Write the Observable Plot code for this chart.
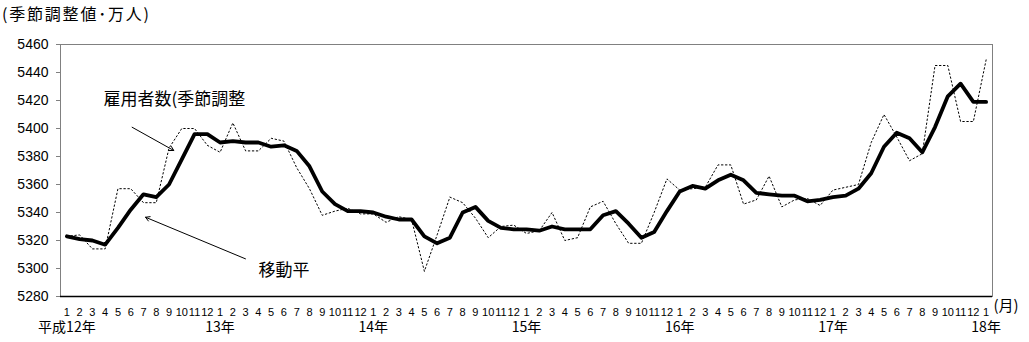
<!DOCTYPE html>
<html><head><meta charset="utf-8">
<script src="https://cdn.jsdelivr.net/npm/d3@7"></script>
<script src="https://cdn.jsdelivr.net/npm/@observablehq/plot@0.6"></script>
<style>
body{margin:0;background:#fff;}
#title{height:24px;font-family:"Noto Sans CJK JP",sans-serif;font-size:16px;letter-spacing:1.8px;line-height:26px;padding-left:2px;color:#000;white-space:nowrap;}
</style></head><body>
<div id="title">(季節調整値･万人)</div>
<div id="chart"></div>
<script>
const monthLabels = ["1","2","3","4","5","6","7","8","9","10","11","12"];
const yearLabels = ["平成12年","13年","14年","15年","16年","17年","18年"];
const yTicks = [5280,5300,5320,5340,5360,5380,5400,5420,5440,5460];

// 雇用者数（季節調整値）, monthly from 平成12年1月 to 平成18年1月
const seasonallyAdjusted = [
  5323,5324,5314,5314,5357,5357,5347,5347,5386,5400,5400,5388,
  5383,5404,5384,5384,5393,5391,5372,5357,5338,5341,5343,5339,
  5339,5333,5337,5335,5298,5324,5351,5347,5336,5322,5330,5331,
  5325,5327,5340,5320,5322,5344,5348,5332,5318,5318,5340,5364,
  5356,5357,5358,5374,5374,5346,5349,5366,5344,5349,5350,5345,
  5356,5358,5360,5390,5410,5394,5377,5382,5445,5445,5405,5405,
  5449
];
// 移動平均
const movingAverage = [
  5323,5321,5320,5317,5329,5342,5353,5351,5360,5378,5396,5396,
  5390,5391,5390,5390,5387,5388,5384,5373,5355,5346,5341,5341,
  5340,5337,5335,5335,5323,5318,5322,5340,5344,5334,5329,5328,
  5328,5327,5330,5328,5328,5328,5338,5341,5332,5322,5326,5341,
  5355,5359,5357,5363,5367,5363,5354,5353,5352,5352,5348,5349,
  5351,5352,5357,5368,5387,5397,5393,5383,5401,5423,5432,5419,
  5419
];

const annotationLabels = ["雇用者数(季節調整", "移動平"];
const annotationX = [2.87, 15.0];
const annotationY = [5420.7, 5298.2];
const arrowFromX = [5.11, 13.99];
const arrowFromY = [5400.9, 5306.9];
const arrowToX = [8.37, 6.16];
const arrowToY = [5384.3, 5336.6];

const data = seasonallyAdjusted.map((v, i) => ({i, sa: v, ma: movingAverage[i]}));
const annotations = annotationLabels.map((t, k) => ({t, x: annotationX[k], y: annotationY[k]}));
const arrows = arrowFromX.map((x1, k) => ({x1, y1: arrowFromY[k], x2: arrowToX[k], y2: arrowToY[k]}));
const yearTicks = yearLabels.map((_, k) => k * 12);

const font = '"Liberation Sans","Noto Sans CJK JP",sans-serif';
const cjk = '"Noto Sans CJK JP",sans-serif';

const chart = Plot.plot({
  width: 1029,
  height: 318,
  marginLeft: 60,
  marginRight: 37,
  marginTop: 20,
  marginBottom: 46,
  style: {fontFamily: font, fontSize: "12px", background: "#fff", color: "#000", overflow: "visible"},
  x: {domain: [-0.5, seasonallyAdjusted.length - 0.5], axis: null},
  y: {domain: [5280, 5460], axis: null},
  marks: [
    Plot.axisY({ticks: yTicks, tickSize: 4, tickPadding: 8, fontSize: 14, tickFormat: d => String(d), stroke: "#808080", fill: "#000"}),
    Plot.frame({stroke: "#808080", strokeWidth: 1}),
    Plot.ruleY([5280], {stroke: "#000", strokeWidth: 1.5}),
    Plot.axisX({ticks: d3.range(seasonallyAdjusted.length), tickSize: 0, tickPadding: 12, fontSize: 11, tickFormat: i => monthLabels[i % 12], fill: "#000"}),
    Plot.axisX({ticks: yearTicks, tickSize: 0, tickPadding: 26, fontSize: 14, fontFamily: cjk, tickFormat: i => yearLabels[i / 12], fill: "#000"}),
    Plot.line(data, {x: "i", y: "sa", stroke: "#000", strokeWidth: 1, strokeDasharray: "1.5,2.5"}),
    Plot.line(data, {x: "i", y: "ma", stroke: "#000", strokeWidth: 3.8, strokeLinejoin: "round"}),
    Plot.arrow(arrows, {x1: "x1", y1: "y1", x2: "x2", y2: "y2", stroke: "#000", strokeWidth: 1, headLength: 7, bend: 0}),
    Plot.text(annotations, {x: "x", y: "y", text: "t", textAnchor: "start", lineAnchor: "middle", fontSize: 17, fontFamily: cjk, fill: "#000", style: "letter-spacing:1.8px"}),
    Plot.text(["(月)"], {frameAnchor: "bottom-right", textAnchor: "start", lineAnchor: "middle", dx: 1, dy: 10, fontSize: 15, fontFamily: cjk, fill: "#000"})
  ]
});
document.getElementById("chart").appendChild(chart);
</script>
</body></html>
